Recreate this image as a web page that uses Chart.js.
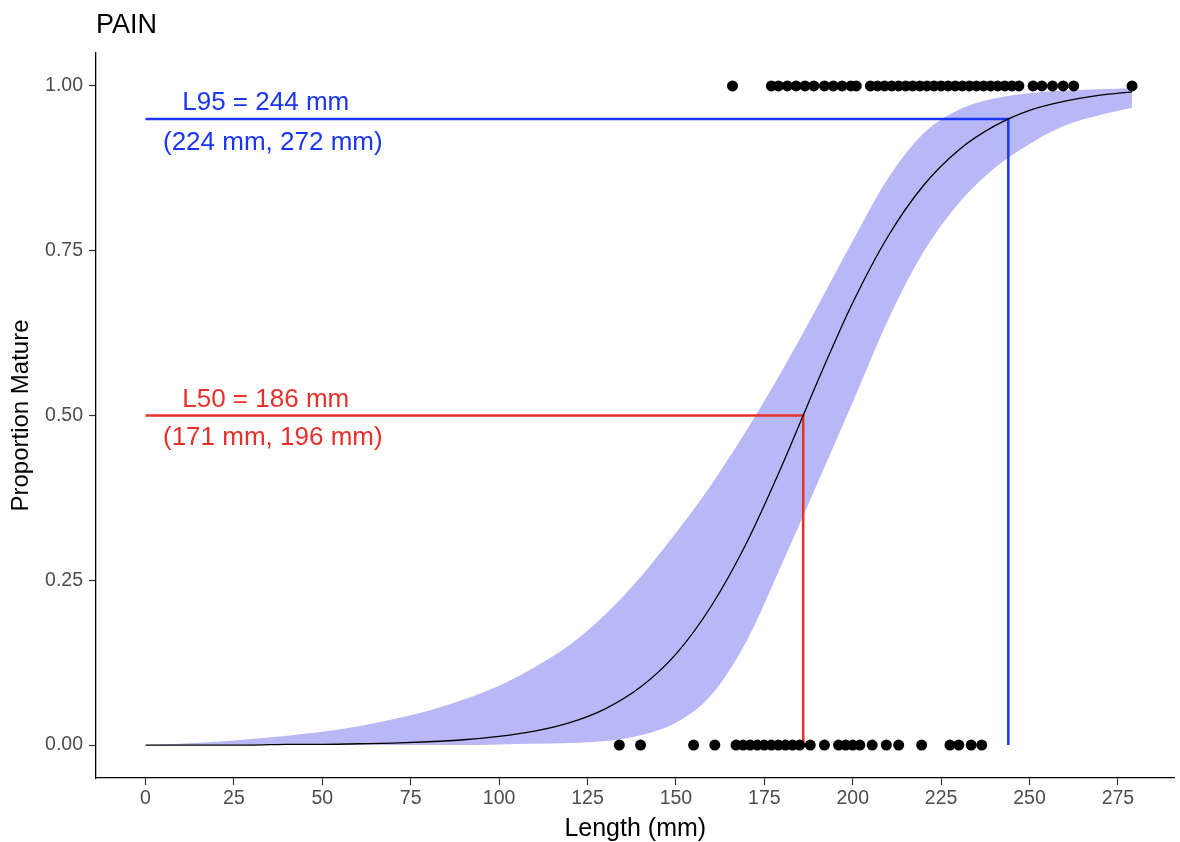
<!DOCTYPE html>
<html>
<head>
<meta charset="utf-8">
<title>PAIN - Proportion Mature</title>
<script src="https://cdn.jsdelivr.net/npm/chart.js@4.4.1/dist/chart.umd.min.js"></script>
<style>
  html, body { margin: 0; padding: 0; background: #fff; }
</style>
</head>
<body>
<canvas id="myChart" width="1180" height="842"></canvas>
<script>
const lengthGrid = [0, 10, 20, 30, 40, 50, 60, 70, 80, 90, 100, 110, 120, 130, 140,
                    150, 160, 170, 180, 190, 200, 210, 220, 230, 240, 250, 260, 270, 279];
const fittedProp = [0.000, 0.000, 0.000, 0.000, 0.001, 0.001, 0.002, 0.003, 0.005, 0.008, 0.013, 0.021, 0.034, 0.055, 0.088,
                    0.138, 0.211, 0.307, 0.424, 0.551, 0.671, 0.772, 0.849, 0.903, 0.939, 0.963, 0.977, 0.986, 0.991];
const ciUpper = [0.000, 0.002, 0.005, 0.009, 0.014, 0.020, 0.028, 0.039, 0.052, 0.069, 0.090, 0.118, 0.152, 0.198, 0.255,
                 0.322, 0.395, 0.478, 0.568, 0.665, 0.765, 0.860, 0.928, 0.964, 0.981, 0.989, 0.993, 0.995, 0.997];
const ciLower = [0.000, 0.000, 0.000, 0.000, 0.000, 0.000, 0.000, 0.000, 0.000, 0.000, 0.001, 0.002, 0.003, 0.006, 0.015,
                 0.034, 0.076, 0.158, 0.275, 0.397, 0.520, 0.645, 0.748, 0.822, 0.875, 0.912, 0.940, 0.956, 0.967];

// observed fish: mature (1) and immature (0)
const matureLengths = [166, 177, 179, 181.5, 184, 186.5, 189, 192, 194.5, 197, 199.5, 201,
                       205, 207, 209, 211, 213, 215, 217, 219, 221, 223, 225, 227, 229, 231, 233, 235, 237, 239, 241, 243, 245, 247,
                       251, 253.5, 256.5, 259.5, 262.5, 279];
const immatureLengths = [134, 140, 155, 161, 167, 169, 171, 173, 175, 177, 179, 181, 183, 185, 188, 192,
                         196, 198, 200, 202, 205.5, 209.5, 213, 219.5, 227.5, 230, 233.5, 236.5];

// maturity estimates
const L50 = 186, L50ci = [171, 196];
const L95 = 244, L95ci = [224, 272];

const xTicks = [0, 25, 50, 75, 100, 125, 150, 175, 200, 225, 250, 275];
const yTicks = [0, 0.25, 0.5, 0.75, 1];

const fontFamily = "'Liberation Sans', Arial, Helvetica, sans-serif";
const blue = '#1a35f5';
const red = '#e8302a';

Chart.defaults.font.family = fontFamily;

const toPoints = (xs, ys) => xs.map((v, i) => ({ x: v, y: ys[i] }));

// title and the L50 / L95 labels
const textLayer = {
    id: 'textLayer',
    afterDatasetsDraw(chart) {
        const { ctx, scales: { x, y } } = chart;
        ctx.save();
        ctx.fillStyle = '#000';
        ctx.font = '27px ' + fontFamily;
        ctx.textAlign = 'left';
        ctx.textBaseline = 'alphabetic';
        ctx.fillText('PAIN', 96, 33);

        ctx.font = '26px ' + fontFamily;
        ctx.textAlign = 'center';
        ctx.textBaseline = 'middle';

        const y95 = y.getPixelForValue(0.95);
        ctx.fillStyle = blue;
        ctx.fillText('L95 = ' + L95 + ' mm', x.getPixelForValue(34), y95 - 16);
        ctx.fillText('(' + L95ci[0] + ' mm, ' + L95ci[1] + ' mm)', x.getPixelForValue(36), y95 + 24);

        const y50 = y.getPixelForValue(0.5);
        ctx.fillStyle = red;
        ctx.fillText('L50 = ' + L50 + ' mm', x.getPixelForValue(34), y50 - 16);
        ctx.fillText('(' + L50ci[0] + ' mm, ' + L50ci[1] + ' mm)', x.getPixelForValue(36), y50 + 22);
        ctx.restore();
    }
};

const ctx = document.getElementById('myChart').getContext('2d');
new Chart(ctx, {
    type: 'scatter',
    data: {
        datasets: [
            {
                label: 'Mature',
                data: matureLengths.map(v => ({ x: v, y: 1 })),
                pointRadius: 5.5,
                pointBackgroundColor: '#000',
                pointBorderWidth: 0,
                order: 0
            },
            {
                label: 'Immature',
                data: immatureLengths.map(v => ({ x: v, y: 0 })),
                pointRadius: 5.5,
                pointBackgroundColor: '#000',
                pointBorderWidth: 0,
                order: 0
            },
            {
                label: 'Fitted',
                data: toPoints(lengthGrid, fittedProp),
                showLine: true,
                borderColor: '#000',
                borderWidth: 1.3,
                pointRadius: 0,
                cubicInterpolationMode: 'monotone',
                order: 1
            },
            {
                label: 'L95',
                data: [{ x: 0, y: 0.95 }, { x: L95, y: 0.95 }, { x: L95, y: 0 }],
                showLine: true,
                borderColor: blue,
                borderWidth: 2.5,
                pointRadius: 0,
                order: 2
            },
            {
                label: 'L50',
                data: [{ x: 0, y: 0.5 }, { x: L50, y: 0.5 }, { x: L50, y: 0 }],
                showLine: true,
                borderColor: red,
                borderWidth: 2.5,
                pointRadius: 0,
                order: 2
            },
            {
                label: 'CI lower',
                data: toPoints(lengthGrid, ciLower),
                showLine: true,
                borderColor: 'rgba(0,0,0,0)',
                pointRadius: 0,
                cubicInterpolationMode: 'monotone',
                fill: false,
                order: 4
            },
            {
                label: 'CI upper',
                data: toPoints(lengthGrid, ciUpper),
                showLine: true,
                borderColor: 'rgba(0,0,0,0)',
                backgroundColor: '#b8b8f6',
                pointRadius: 0,
                cubicInterpolationMode: 'monotone',
                fill: '-1',
                order: 3
            }
        ]
    },
    options: {
        responsive: false,
        animation: false,
        layout: { padding: { top: 53, right: 4, left: 0, bottom: 0 } },
        plugins: {
            legend: { display: false },
            tooltip: { enabled: false },
            title: { display: false }
        },
        scales: {
            x: {
                type: 'linear',
                min: -14,
                max: 291,
                afterBuildTicks: s => { s.ticks = xTicks.map(v => ({ value: v })); },
                afterFit: s => { s.height = 64; },
                grid: { drawOnChartArea: false, tickLength: 7, color: '#333', tickWidth: 1.2 },
                border: { color: '#000', width: 1.3 },
                ticks: { color: '#4d4d4d', font: { size: 19.5 }, padding: 2, maxRotation: 0, autoSkip: false },
                title: { display: true, text: 'Length (mm)', color: '#000', font: { size: 25, lineHeight: 1 }, padding: { top: 0, bottom: 0 } }
            },
            y: {
                type: 'linear',
                min: -0.05,
                max: 1.05,
                afterBuildTicks: s => { s.ticks = yTicks.map(v => ({ value: v })); },
                afterFit: s => { s.width = 96; },
                grid: { drawOnChartArea: false, tickLength: 7, color: '#333', tickWidth: 1.2 },
                border: { color: '#000', width: 1.3 },
                ticks: {
                    color: '#4d4d4d',
                    font: { size: 19.5 },
                    padding: 6,
                    callback: v => v.toFixed(2)
                },
                title: { display: true, text: 'Proportion Mature', color: '#000', font: { size: 24, lineHeight: 1 }, padding: { top: 9, bottom: 0 } }
            }
        }
    },
    plugins: [textLayer]
});
</script>
</body>
</html>
